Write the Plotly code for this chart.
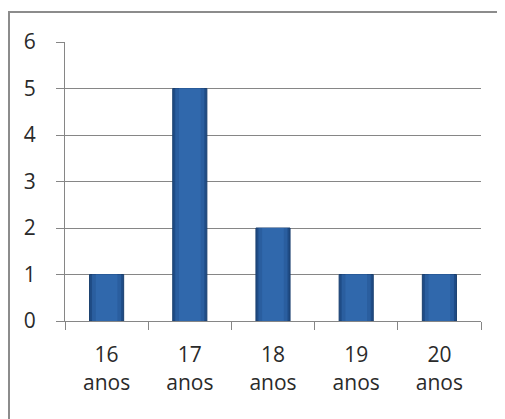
import plotly.graph_objects as go

categories = ["16<br>anos", "17<br>anos", "18<br>anos", "19<br>anos", "20<br>anos"]
values = [1, 5, 2, 1, 1]
y_ticks = [0, 1, 2, 3, 4, 5, 6]

# page body adds an 8px offset; positions below are in figure pixels
W, H = 505, 419
OFF = 8
L = 65 - OFF
T = 42 - OFF
R = W - (481 - OFF)
B = H - (321 - OFF)
pw, ph = W - L - R, H - T - B

def px_x(x):
    return (x - OFF - L) / pw

def px_y(y):
    return (H - B - (y - OFF)) / ph

fig = go.Figure()
fig.add_trace(go.Bar(
    x=categories, y=values,
    marker=dict(color="#1F4C86", line=dict(color="#1A3F6E", width=1)),
    width=0.41,
))
fig.add_trace(go.Bar(
    x=categories, y=values,
    marker=dict(color="#2A5E9F", line=dict(width=0)),
    width=0.35, hoverinfo="skip",
))
fig.add_trace(go.Bar(
    x=categories, y=values,
    marker=dict(color="#3068AC", line=dict(width=0)),
    width=0.26, hoverinfo="skip",
))

fig.update_layout(
    width=W, height=H,
    margin=dict(l=L, r=R, t=T, b=B),
    paper_bgcolor="white", plot_bgcolor="white",
    barmode="overlay",
    showlegend=False,
    font=dict(family="Open Sans, Noto Sans, sans-serif", size=21, color="#2A2A2A"),
    xaxis=dict(
        type="category", showline=True, linecolor="#868686", linewidth=1,
        ticks="outside", tickson="boundaries", ticklen=8, tickcolor="#868686",
        showgrid=False, ticklabelstandoff=15, tickfont=dict(size=21),
    ),
    yaxis=dict(
        range=[0, 6], tickvals=y_ticks, showline=True, linecolor="#868686",
        linewidth=1, ticks="outside", ticklen=8, tickcolor="#868686",
        showgrid=True, gridcolor="#868686", gridwidth=1, zeroline=False,
        ticklabelstandoff=16, tickfont=dict(size=21),
    ),
    shapes=[dict(
        type="rect", xref="paper", yref="paper",
        x0=px_x(9), x1=px_x(498), y0=px_y(425), y1=px_y(12),
        line=dict(color="#8C8C8C", width=2), fillcolor="rgba(0,0,0,0)",
        layer="below",
    )],
)

fig.write_html("out.html")
